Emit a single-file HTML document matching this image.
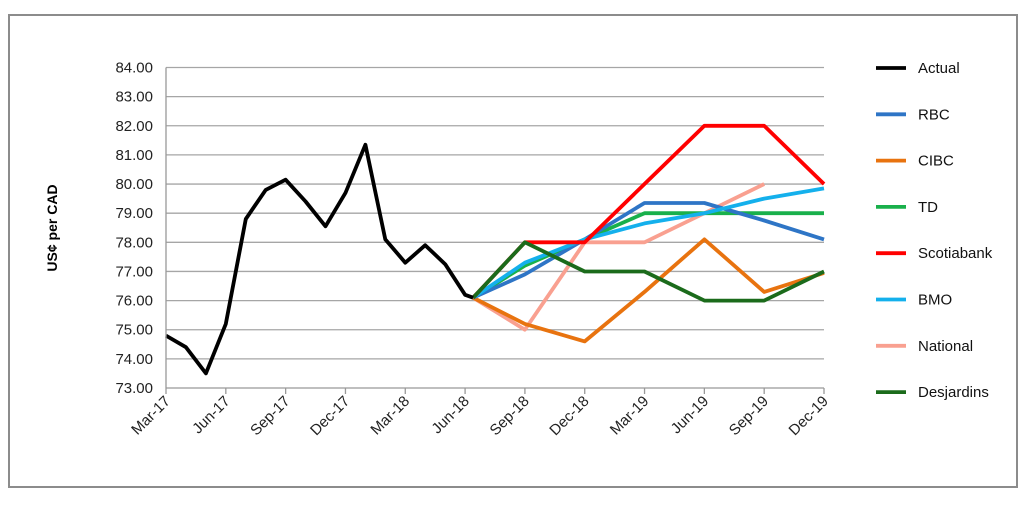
<!DOCTYPE html>
<html><head><meta charset="utf-8"><style>
body{margin:0;background:#fff;}
svg text{font-family:"Liberation Sans",Arial,sans-serif;}
</style></head><body>
<svg width="1024" height="509" xmlns="http://www.w3.org/2000/svg">
<rect x="9" y="15" width="1008" height="472" fill="#fff" stroke="#8c8c8c" stroke-width="2"/>
<g id="grid"></g><g id="series"></g><g id="axes"></g><g id="legend"></g>
<text transform="translate(57,228) rotate(-90)" text-anchor="middle" font-size="14" font-weight="bold">US¢ per CAD</text>
</svg>
<script>
const quarterLabels=["Mar-17","Jun-17","Sep-17","Dec-17","Mar-18","Jun-18","Sep-18","Dec-18","Mar-19","Jun-19","Sep-19","Dec-19"];
const yTicks=[73,74,75,76,77,78,79,80,81,82,83,84];
const actualMonths=[0,1,2,3,4,5,6,7,8,9,10,11,12,13,14,15,15.4];
const actualValues=[74.8,74.4,73.5,75.2,78.8,79.8,80.15,79.4,78.55,79.7,81.35,78.1,77.3,77.9,77.25,76.2,76.1];
const fcMonths=[15.4,18,21,24,27,30,33];
const rbc=[76.1,76.9,78.1,79.35,79.35,78.75,78.1];
const cibc=[76.1,75.2,74.6,76.3,78.1,76.3,76.95];
const td=[76.1,77.2,78.1,79.0,79.0,79.0,79.0];
const scotia=[76.1,78,78,80,82,82,80];
const bmo=[76.1,77.3,78.1,78.65,79.0,79.5,79.85];
const national=[76.1,75.0,78,78,79,80,null];
const desj=[76.1,78,77,77,76,76,77];
const NS="http://www.w3.org/2000/svg";
const X=m=>166+m*(658/33);
const Y=v=>388-(v-73)*(320.5/11);
function mk(t,a,p){const e=document.createElementNS(NS,t);for(const k in a)e.setAttribute(k,a[k]);p.appendChild(e);return e;}
const grid=document.getElementById('grid'),axes=document.getElementById('axes'),ser=document.getElementById('series'),leg=document.getElementById('legend');
yTicks.forEach(v=>{
 if(v>73){const l=mk('line',{x1:166,x2:824,y1:Y(v),y2:Y(v),stroke:'#a6a6a6','stroke-width':1.3},grid);
 
 }
 const t=mk('text',{x:153,y:Y(v)+5,'text-anchor':'end','font-size':15,fill:'#222'},axes);t.textContent=v.toFixed(2);
 
 
});
const ax=mk('line',{x1:166,x2:166,y1:Y(84),y2:Y(73),stroke:'#999','stroke-width':1.3},axes);


const bx=mk('line',{x1:166,x2:824,y1:Y(73),y2:Y(73),stroke:'#999','stroke-width':1.3},axes);


quarterLabels.forEach((q,i)=>{const x=X(i*3);
 mk('line',{x1:x,x2:x,y1:Y(73),y2:Y(73)+6,stroke:'#999','stroke-width':1.3},axes);
 const t=mk('text',{x:0,y:0,'text-anchor':'end','font-size':15,fill:'#222',transform:`translate(${x+5},${Y(73)+14}) rotate(-45)`},axes);t.textContent=q;
 
 
});
function line(xs,vs,color,name){let d='';xs.forEach((m,i)=>{if(vs[i]==null)return;d+=(d?'L':'M')+X(m).toFixed(1)+','+Y(vs[i]).toFixed(1);});
 const p=mk('path',{d:d,fill:'none',stroke:color,'stroke-width':3.8,'stroke-linejoin':'round'},ser);
 
 }
const series=[["Actual",actualMonths,actualValues,"#000"],["RBC",fcMonths,rbc,"#2e75c6"],["CIBC",fcMonths,cibc,"#e8730f"],["TD",fcMonths,td,"#19b04b"],["Scotiabank",fcMonths,scotia,"#ff0000"],["BMO",fcMonths,bmo,"#14b0ec"],["National",fcMonths,national,"#f9a090"],["Desjardins",fcMonths,desj,"#1b6b1b"]];
const drawOrder=[6,2,3,1,5,4,7,0];
drawOrder.forEach(i=>{const s=series[i];line(s[1],s[2],s[3],s[0].toLowerCase());});
series.forEach((s,i)=>{const y=68+i*46.3;
 const g=mk('g',{},leg);
 
 
 mk('line',{x1:876,x2:906,y1:y,y2:y,stroke:s[3],'stroke-width':3.8},g);
 const t=mk('text',{x:918,y:y+5,'font-size':15,fill:'#111'},g);t.textContent=s[0];
});
</script>
</body></html>
